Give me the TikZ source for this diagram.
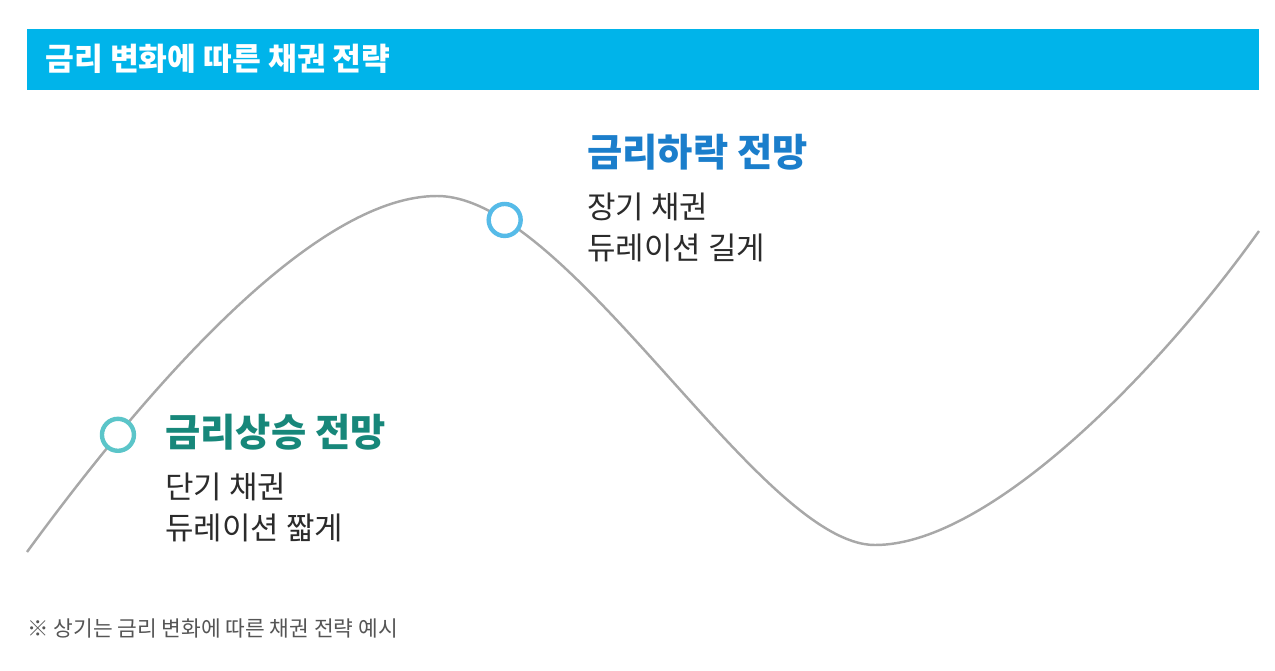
\documentclass[tikz,border=0pt]{standalone}
\usepackage{fontspec}
\setmainfont{Noto Sans CJK KR}
\usepackage{tikz}
\usepackage{xcolor}

\definecolor{headblue}{HTML}{00B4EA}
\definecolor{riseteal}{HTML}{5BC5C9}
\definecolor{risetitle}{HTML}{17877A}
\definecolor{fallblue}{HTML}{56BBE8}
\definecolor{falltitle}{HTML}{1B7ECB}
\definecolor{bodygray}{HTML}{2B2B2B}
\definecolor{notegray}{HTML}{555555}
\definecolor{curvegray}{HTML}{A8A8A8}

\tikzset{
  ring/.style={circle,draw,fill=white,line width=2.5pt,minimum size=0.64cm,inner sep=0pt},
  title/.style={anchor=west,inner sep=0pt,font=\fontsize{21.8}{26}\selectfont\bfseries},
  body/.style={anchor=west,inner sep=0pt,text=bodygray,font=\fontsize{17.6}{21}\selectfont},
}

\begin{document}
\begin{tikzpicture}[x=0.02cm,y=-0.02cm]
\useasboundingbox (0,0) rectangle (1275,670);
% header bar
\fill[headblue] (27,29) rectangle (1259,90);
\node[anchor=west,inner sep=0pt,text=white,font=\fontsize{17.8}{21}\selectfont\bfseries] (header) at (45,59) {금리 변화에 따른 채권 전략};
% curve with the two markers
\draw[curvegray,line width=1.4pt]
  (27,552) .. controls (160,370) and (320,196) .. node[ring,draw=riseteal,pos=0.22] (riseDot) {}
  (437,196) .. controls (570,196) and (760,545) .. node[ring,draw=fallblue,pos=0.16] (fallDot) {}
  (875,545) .. controls (990,545) and (1160,370) .. (1259,231);
% rising rates
\node[title,text=risetitle] (riseTitle) at (165,432) {금리상승 전망};
\node[body] (riseLine1) at (165,487) {단기 채권};
\node[body] (riseLine2) at (165,528) {듀레이션 짧게};
% falling rates
\node[title,text=falltitle] (fallTitle) at (587,152) {금리하락 전망};
\node[body] (fallLine1) at (587,207) {장기 채권};
\node[body] (fallLine2) at (587,248) {듀레이션 길게};
% note
\node[anchor=west,inner sep=0pt,text=notegray,font=\fontsize{12.2}{14}\selectfont] (note) at (27,628) {※ 상기는 금리 변화에 따른 채권 전략 예시};
\end{tikzpicture}
\end{document}
